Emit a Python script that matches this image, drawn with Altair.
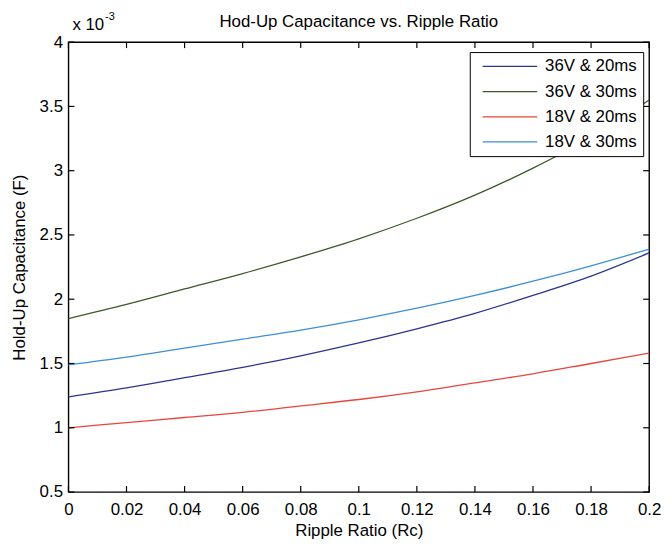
import altair as alt
import pandas as pd

ripple = [0.0, 0.02, 0.04, 0.06, 0.08, 0.10, 0.12, 0.14, 0.16, 0.18, 0.20]
c_36v_20ms = [1.24, 1.31, 1.39, 1.47, 1.56, 1.66, 1.77, 1.89, 2.03, 2.18, 2.36]
c_36v_30ms = [1.85, 1.96, 2.08, 2.20, 2.33, 2.47, 2.63, 2.81, 3.02, 3.26, 3.55]
c_18v_20ms = [1.00, 1.04, 1.08, 1.12, 1.17, 1.22, 1.28, 1.35, 1.42, 1.50, 1.58]
c_18v_30ms = [1.49, 1.55, 1.62, 1.69, 1.76, 1.84, 1.93, 2.03, 2.14, 2.26, 2.39]

series_names = ["36V & 20ms", "36V & 30ms", "18V & 20ms", "18V & 30ms"]
series_colors = ["#2a3590", "#3d5a2b", "#e8453c", "#3b8fd9"]
x_ticks = [0.0, 0.02, 0.04, 0.06, 0.08, 0.10, 0.12, 0.14, 0.16, 0.18, 0.20]
y_ticks = [0.5, 1.0, 1.5, 2.0, 2.5, 3.0, 3.5, 4.0]

chart_title = "Hod-Up Capacitance vs. Ripple Ratio"
exp_text = "x 10"
exp_power = "-3"

rows = []
for name, vals in zip(series_names, [c_36v_20ms, c_36v_30ms, c_18v_20ms, c_18v_30ms]):
    for r, v in zip(ripple, vals):
        rows.append({"Rc": r, "C": v, "Series": name})
df = pd.DataFrame(rows)

W, H = 586, 454
FONT = "Liberation Sans"
FS = 17
TICK = 6

xscale = alt.Scale(domain=[0, 0.2], nice=False, zero=False)
yscale = alt.Scale(domain=[0.5, 4], nice=False, zero=False)

lines = alt.Chart(df).mark_line(strokeWidth=1.3, interpolate="monotone").encode(
    x=alt.X("Rc:Q", scale=xscale,
            axis=alt.Axis(values=x_ticks, format="~g", title="Ripple Ratio (Rc)",
                          ticks=False, domain=False, grid=False, labelPadding=10,
                          titlePadding=5, labelFlush=False)),
    y=alt.Y("C:Q", scale=yscale,
            axis=alt.Axis(values=y_ticks, format="~g", title="Hold-Up Capacitance (F)",
                          ticks=False, domain=False, grid=False, labelPadding=6,
                          titlePadding=11, labelFlush=False)),
    color=alt.Color("Series:N", sort=series_names,
                    scale=alt.Scale(domain=series_names, range=series_colors),
                    legend=alt.Legend(title=None, orient="none", legendX=405, legendY=10,
                                      symbolType="M-1,0L9,0", symbolSize=121,
                                      symbolStrokeWidth=1.3, symbolOffset=4,
                                      labelOffset=49, padding=6, rowPadding=7.4,
                                      strokeColor="black", fillColor="white",
                                      labelFont=FONT, labelFontSize=FS, labelColor="black")),
)

xt_df = pd.DataFrame({"t": x_ticks})
yt_df = pd.DataFrame({"t": y_ticks})

x_bottom = alt.Chart(xt_df).mark_rule(color="black", strokeWidth=1.2).encode(
    x=alt.X("t:Q", scale=xscale), y=alt.value(H), y2=alt.value(H - TICK))
x_top = alt.Chart(xt_df).mark_rule(color="black", strokeWidth=1.2).encode(
    x=alt.X("t:Q", scale=xscale), y=alt.value(0), y2=alt.value(TICK))
y_left = alt.Chart(yt_df).mark_rule(color="black", strokeWidth=1.2).encode(
    y=alt.Y("t:Q", scale=yscale), x=alt.value(0), x2=alt.value(TICK))
y_right = alt.Chart(yt_df).mark_rule(color="black", strokeWidth=1.2).encode(
    y=alt.Y("t:Q", scale=yscale), x=alt.value(W), x2=alt.value(W - TICK))

title_txt = alt.Chart(pd.DataFrame({"t": [chart_title]})).mark_text(
    align="center", baseline="alphabetic", font=FONT, fontSize=FS, color="black").encode(
    text="t:N", x=alt.value(W / 2), y=alt.value(-15))
exp_base = alt.Chart(pd.DataFrame({"t": [exp_text]})).mark_text(
    align="left", baseline="alphabetic", font=FONT, fontSize=FS, color="black").encode(
    text="t:N", x=alt.value(4), y=alt.value(-12))
exp_sup = alt.Chart(pd.DataFrame({"t": [exp_power]})).mark_text(
    align="left", baseline="alphabetic", font=FONT, fontSize=11, color="black").encode(
    text="t:N", x=alt.value(37), y=alt.value(-22))

chart = alt.layer(lines, x_bottom, x_top, y_left, y_right,
                  title_txt, exp_base, exp_sup).properties(
    width=W, height=H,
    autosize=alt.AutoSizeParams(type="none"),
    padding={"left": 61, "top": 32, "right": 15, "bottom": 54},
).configure(background="white").configure_view(
    stroke="black", strokeWidth=1.4
).configure_axis(
    labelFont=FONT, labelFontSize=FS, labelColor="black",
    titleFont=FONT, titleFontSize=FS, titleFontWeight="normal", titleColor="black",
)

chart.save("out.html", embed_options={"renderer": "svg", "actions": False})
